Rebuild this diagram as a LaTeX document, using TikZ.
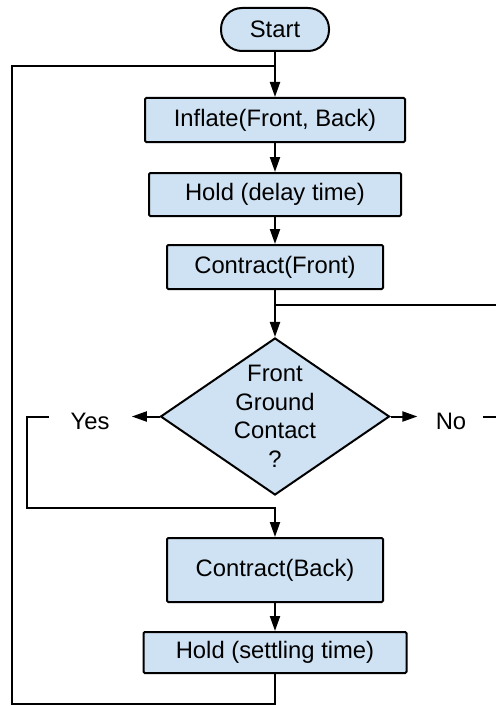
\documentclass[tikz,border=0pt]{standalone}
\usepackage{fontspec}
\setmainfont{Liberation Sans}
\usetikzlibrary{arrows.meta,shapes.geometric}
\definecolor{cBox}{RGB}{207,226,243}
\definecolor{cInk}{RGB}{0,0,0}
\tikzset{
  box/.style  ={draw=cInk,fill=cBox,line width=1pt,rounded corners=0.6pt,inner sep=2pt,
                align=center,font=\fontsize{11.9}{14.25}\selectfont},
  term/.style ={box,rounded corners=10.5pt},
  test/.style ={box,diamond,shape aspect=1.46,inner sep=-2pt,rounded corners=0pt},
  lbl/.style  ={font=\fontsize{11.9}{14.25}\selectfont,inner sep=0pt},
  fl/.style   ={-{Triangle[length=7.5pt,width=5pt]},draw=cInk,line width=1pt},
  ln/.style   ={draw=cInk,line width=1pt},
}

\begin{document}
\begin{tikzpicture}[x=0.5pt,y=-0.5pt]
\useasboundingbox (0,0) rectangle (496,706);

%% main column, everything centred on x = 275
\node[term,minimum width=54pt,minimum height=21.5pt]   (start) at (275,29.5)  {Start};
\node[box,minimum width=130pt,minimum height=22pt]     (infl)  at (275,120)   {Inflate(Front, Back)};
\node[box,minimum width=126pt,minimum height=21.5pt]   (hldd)  at (275,194.5) {Hold (delay time)};
\node[box,minimum width=108pt,minimum height=22pt]     (cfrt)  at (275,267)   {Contract(Front)};
\node[test,minimum width=114.5pt,minimum height=78.5pt] (gnd)  at (275,416.5) {Front\\Ground\\Contact\\?};
\node[box,minimum width=108pt,minimum height=32pt]     (cbck)  at (275,570)   {Contract(Back)};
\node[box,minimum width=131.5pt,minimum height=20.5pt] (hlds)  at (275,652.5) {Hold (settling time)};

%% branch labels
\node[lbl] (yes) at (90,421.5)  {Yes};
\node[lbl] (no)  at (451,421.5) {No};

%% free ends of the connectors
\coordinate (loopin) at (12,66);
\coordinate (loopbl) at (12,704);
\coordinate (fork)   at (275,305);
\coordinate (ystub)  at (49,417);
\coordinate (nstub)  at (483,417);

%% straight flow
\draw[fl] (start) -- (infl);
\draw[fl] (infl)  -- (hldd);
\draw[fl] (hldd)  -- (cfrt);
\draw[fl] (cfrt)  -- (gnd);
\draw[fl] (cbck)  -- (hlds);
\draw[ln] (fork)  -- ++(221,0);

%% decision exits
\draw[fl,shorten >=11pt] (gnd.west) -- (gnd.west -| yes.east);
\draw[fl,shorten >=9pt]  (gnd.east) -- (gnd.east -| no.west);
\draw[fl] (ystub) -- ++(-22,0) -- ++(0,91) -| (cbck.north);
\draw[ln] (nstub) -- ++(13,0);

%% back to the top
\draw[ln] (hlds.south) |- (loopbl) |- (start.south |- loopin);

\end{tikzpicture}
\end{document}
